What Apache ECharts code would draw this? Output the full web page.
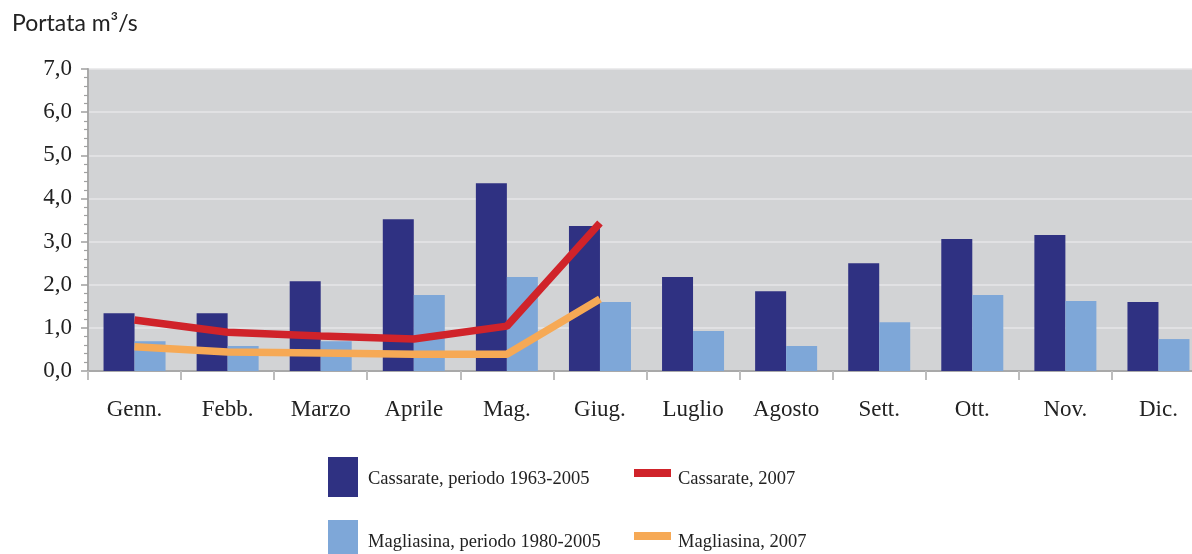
<!DOCTYPE html>
<html><head><meta charset="utf-8">
<script src="https://cdn.jsdelivr.net/npm/echarts@6/dist/echarts.min.js"></script>
<style>html,body{margin:0;padding:0;background:#fff;overflow:hidden}#c{width:1205px;height:554px}</style>
</head><body><div id="c"></div>
<script>
const months = ['Genn.','Febb.','Marzo','Aprile','Mag.','Giug.','Luglio','Agosto','Sett.','Ott.','Nov.','Dic.'];
const cassarateAvg = [1.34,1.34,2.08,3.52,4.35,3.36,2.18,1.85,2.50,3.06,3.15,1.60];
const magliasinaAvg = [0.69,0.58,0.69,1.76,2.18,1.60,0.93,0.58,1.13,1.76,1.62,0.74];
const cassarate2007 = [1.18,0.90,0.81,0.74,1.04,3.43];
const magliasina2007 = [0.56,0.44,0.42,0.39,0.39,1.67];
const seriesNames = ['Cassarate, periodo 1963-2005','Magliasina, periodo 1980-2005','Cassarate, 2007','Magliasina, 2007'];
const colors = ['#2f3182','#7ea7d8','#d0232a','#f6a955'];

const chart = echarts.init(document.getElementById('c'));
const serif = 'Liberation Serif';
function legendFor(i, left, top, w, h, padL, padT){
  return {data:[seriesNames[i]], left:left, top:top, itemWidth:w, itemHeight:h, icon:'rect',
    formatter:'{a|{name}}',
    textStyle:{fontFamily:serif, fontSize:18.5, color:'#222',
      rich:{a:{fontFamily:serif, fontSize:18.5, color:'#222', padding:[padT,0,0,padL]}}}};
}
chart.setOption({
  animation:false,
  title:{text:'Portata m³/s', left:7, top:7, textStyle:{fontFamily:'Lato', fontWeight:'normal', fontSize:23, color:'#222'}},
  legend:[
    legendFor(0,323,452,30,40,5,4),
    legendFor(1,323,515,30,40,5,4),
    legendFor(2,629,464,37,8,2,12),
    legendFor(3,629,527,37,8,2,12)
  ],
  grid:{left:88, top:69, right:0, bottom:183, show:true, backgroundColor:'#d2d3d5', borderWidth:0, containLabel:false},
  xAxis:{type:'category', data:months,
    axisLine:{lineStyle:{color:'#a9a9a9', width:2}},
    axisTick:{show:true, length:9, lineStyle:{color:'#bdbdbd', width:2}},
    axisLabel:{fontFamily:serif, fontSize:23, color:'#222', margin:27}},
  yAxis:{type:'value', min:0, max:7, interval:1,
    axisLine:{show:true, lineStyle:{color:'#a9a9a9', width:2}},
    axisTick:{show:true, length:7, lineStyle:{color:'#a0a0a0', width:1.5}},
    minorTick:{show:true, splitNumber:5, length:4, lineStyle:{color:'#a0a0a0', width:1.2}},
    splitLine:{show:true, lineStyle:{color:'#e6e6e7', width:1.5}},
    axisLabel:{fontFamily:serif, fontSize:23, color:'#222', margin:16, formatter:v=>v.toFixed(1).replace('.',',')}},
  series:[
    {name:seriesNames[0], type:'bar', data:cassarateAvg, barWidth:31, barGap:'0%', itemStyle:{color:colors[0]}},
    {name:seriesNames[1], type:'bar', data:magliasinaAvg, barWidth:31, barGap:'0%', itemStyle:{color:colors[1]}},
    {name:seriesNames[2], type:'line', data:cassarate2007, showSymbol:false, symbol:'none', lineStyle:{color:colors[2], width:7.5}, itemStyle:{color:colors[2]}, z:4},
    {name:seriesNames[3], type:'line', data:magliasina2007, showSymbol:false, symbol:'none', lineStyle:{color:colors[3], width:7.5}, itemStyle:{color:colors[3]}, z:3}
  ]
});
</script></body></html>
